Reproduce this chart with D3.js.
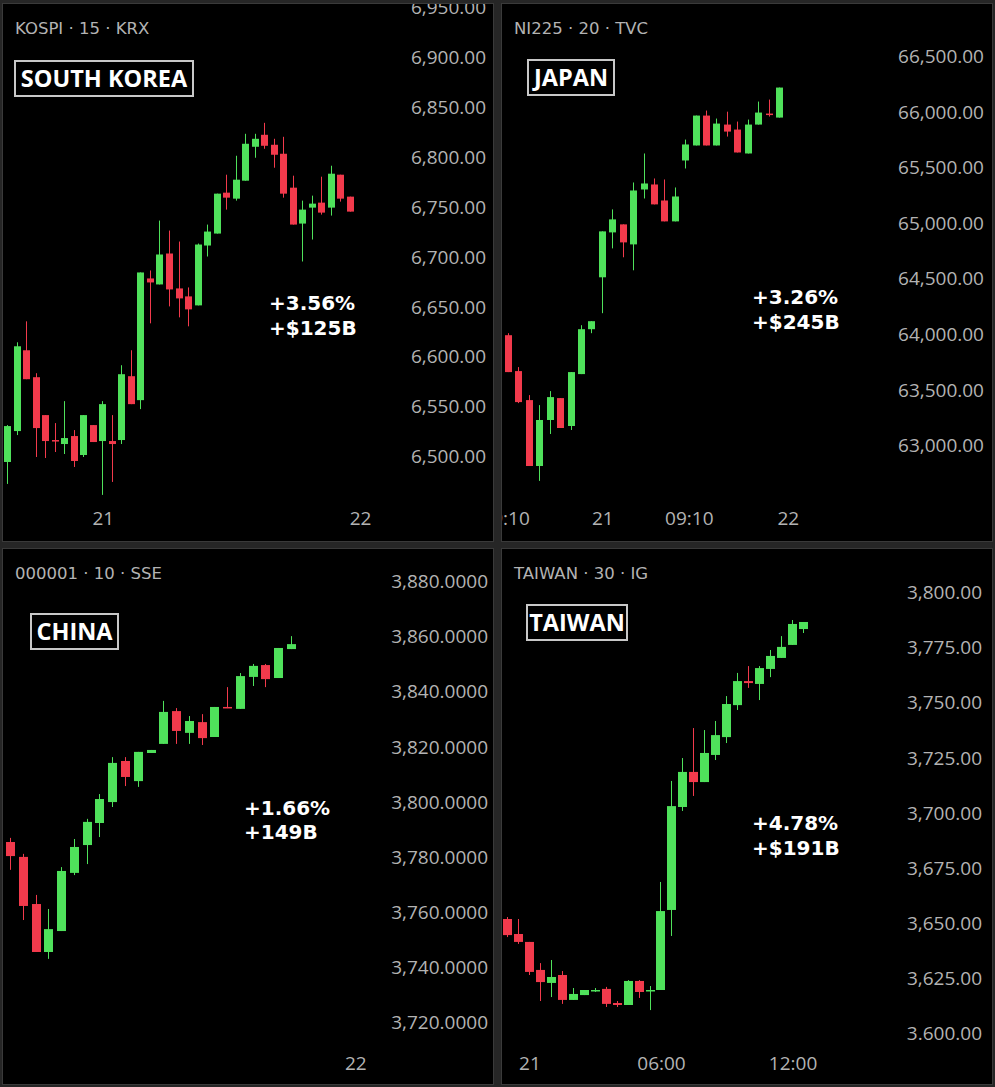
<!DOCTYPE html>
<html><head><meta charset="utf-8">
<script src="https://cdn.jsdelivr.net/npm/d3@7"></script>
<style>
html,body{margin:0;padding:0;background:#262626;}
svg{display:block;}
</style></head><body>
<svg id="chart" width="995" height="1087"></svg>
<script>
// ---------- DATA (open, high, low, close) ----------
const koreaCandles = [
 [6494,6531,6472,6530],[6525,6614,6521,6610],[6606,6635,6577,6577],[6579,6583,6499,6528],
 [6541,6541,6498,6515],[6516,6533,6504,6515],[6512,6555,6502,6518],[6520,6526,6489,6495],
 [6501,6541,6499,6541],[6531,6531,6514,6514],[6515,6555,6461,6552],[6515,6541,6474,6512],
 [6516,6591,6512,6582],[6580,6606,6552,6552],[6556,6684,6547,6684],[6678,6686,6633,6674],
 [6672,6736,6672,6702],[6703,6726,6650,6667],[6668,6715,6639,6658],[6660,6669,6630,6647],
 [6651,6713,6651,6712],[6711,6732,6700,6725],[6723,6763,6723,6763],[6764,6782,6747,6759],
 [6758,6801,6756,6777],[6776,6823,6776,6813],[6810,6823,6799,6818],[6822,6834,6808,6811],
 [6812,6818,6789,6802],[6803,6820,6759,6763],[6769,6781,6732,6732],[6733,6756,6695,6747],
 [6749,6761,6717,6753],[6754,6780,6742,6744],[6749,6791,6741,6783],[6782,6782,6755,6758],
 [6760,6760,6745,6745]
];
const japanCandles = [
 [63988,64006,63656,63656],[63665,63701,63377,63386],[63404,63449,62811,62811],[62811,63359,62677,63225],
 [63225,63485,63099,63431],[63422,63422,63153,63153],[63171,63656,63135,63656],[63638,64078,63638,64042],
 [64042,64114,64006,64114],[64509,64922,64186,64922],[64913,65120,64769,65030],[64985,64985,64689,64823],
 [64805,65362,64572,65290],[65299,65623,65218,65353],[65344,65398,65165,65165],[65200,65389,65012,65012],
 [65012,65317,65012,65236],[65560,65748,65488,65704],[65695,65964,65695,65964],[65964,66009,65695,65695],
 [65695,65937,65695,65892],[65883,65999,65775,65820],[65838,65910,65632,65632],[65623,65928,65623,65883],
 [65883,66090,65883,65991],[65982,66108,65955,65973],[65946,66216,65946,66216]
];
const chinaCandles = [
 [3785.3,3786.8,3775.2,3780.2],[3779.9,3781.0,3757.0,3762.1],[3762.8,3766.1,3745.4,3745.4],[3745.4,3761.0,3742.9,3753.7],
 [3753.0,3776.2,3753.0,3774.8],[3774.1,3786.4,3773.3,3783.5],[3784.2,3793.7,3777.3,3792.6],[3792.2,3802.7,3787.1,3800.9],
 [3799.8,3816.1,3798.0,3814.0],[3814.7,3816.1,3805.6,3808.9],[3807.4,3818.0,3805.3,3818.0],[3817.6,3818.7,3817.6,3818.7],
 [3820.9,3836.5,3820.9,3832.5],[3832.8,3833.9,3820.9,3825.6],[3824.9,3831.0,3820.9,3829.2],[3828.8,3831.7,3820.5,3823.0],
 [3823.4,3834.3,3823.4,3834.3],[3834.3,3841.5,3833.9,3833.9],[3833.6,3846.6,3833.6,3845.5],[3845.2,3849.9,3841.9,3849.2],
 [3849.5,3849.9,3841.5,3844.4],[3844.8,3855.7,3844.8,3855.7],[3855.3,3860.0,3855.3,3857.1]
];
const taiwanCandles = [
 [3651.7,3652.6,3643.5,3644.4],[3644.9,3651.7,3640.4,3641.3],[3641.3,3641.3,3626.3,3627.7],[3628.6,3631.7,3614.5,3623.1],
 [3622.7,3633.1,3616.3,3625.4],[3626.3,3628.1,3613.2,3615.0],[3615.0,3620.4,3615.0,3617.7],[3617.2,3619.5,3617.2,3619.5],
 [3619.0,3620.4,3618.6,3619.5],[3620.0,3620.9,3611.8,3613.2],[3613.6,3614.5,3611.8,3612.7],[3612.7,3624.0,3612.7,3623.6],
 [3623.6,3624.0,3615.9,3618.6],[3619.0,3621.3,3610.4,3619.5],[3619.5,3668.5,3619.5,3655.3],[3655.8,3714.3,3644.0,3702.9],
 [3702.5,3724.7,3700.7,3718.4],[3718.4,3738.3,3707.5,3713.8],[3713.8,3737.4,3713.8,3727.0],[3726.1,3741.5,3723.8,3735.1],
 [3734.2,3752.8,3731.5,3749.2],[3748.7,3763.3,3746.5,3759.6],[3759.6,3766.4,3756.5,3758.7],[3758.3,3766.4,3751.0,3765.5],
 [3765.1,3773.7,3761.4,3771.0],[3770.1,3780.0,3770.1,3775.1],[3776.0,3787.3,3776.0,3785.5],[3783.2,3786.4,3781.4,3786.4]
];

const koreaYTicks = [6500,6550,6600,6650,6700,6750,6800,6850,6900,6950];
const koreaYLabels = ["6,500.00","6,550.00","6,600.00","6,650.00","6,700.00","6,750.00","6,800.00","6,850.00","6,900.00","6,950.00"];
const japanYTicks = [63000,63500,64000,64500,65000,65500,66000,66500];
const japanYLabels = ["63,000.00","63,500.00","64,000.00","64,500.00","65,000.00","65,500.00","66,000.00","66,500.00"];
const chinaYTicks = [3720,3740,3760,3780,3800,3820,3840,3860,3880];
const chinaYLabels = ["3,720.0000","3,740.0000","3,760.0000","3,780.0000","3,800.0000","3,820.0000","3,840.0000","3,860.0000","3,880.0000"];
const taiwanYTicks = [3600,3625,3650,3675,3700,3725,3750,3775,3800];
const taiwanYLabels = ["3.600.00","3,625.00","3,650.00","3,675.00","3,700.00","3,725.00","3,750.00","3,775.00","3,800.00"];

const koreaXTicks = [10,37];          const koreaXLabels = ["21","22"];
const japanXTicks = [-0.33,9,17.3,26.8]; const japanXLabels = ["09:10","21","09:10","22"];
const chinaXTicks = [27];             const chinaXLabels = ["22"];
const taiwanXTicks = [2,14,26];       const taiwanXLabels = ["21","06:00","12:00"];

const koreaTitle = "KOSPI · 15 · KRX",  koreaName = "SOUTH KOREA", koreaNotes = ["+3.56%","+$125B"];
const japanTitle = "NI225 · 20 · TVC",  japanName = "JAPAN",       japanNotes = ["+3.26%","+$245B"];
const chinaTitle = "000001 · 10 · SSE", chinaName = "CHINA",       chinaNotes = ["+1.66%","+149B"];
const taiwanTitle = "TAIWAN · 30 · IG", taiwanName = "TAIWAN",     taiwanNotes = ["+4.78%","+$191B"];

// ---------- LAYOUT ----------
const GREEN = "#4fe15b", RED = "#f23a4c", GREY = "#b3b3b3";
const TICK_FONT = "'Open Sans', sans-serif";
const panels = [
 {id:"kr", data:koreaCandles, yTicks:koreaYTicks, yLabels:koreaYLabels, xTicks:koreaXTicks, xLabels:koreaXLabels,
  title:koreaTitle, name:koreaName, notes:koreaNotes,
  box:{x:3,y:4,w:490,h:537}, xRange:[7.5,350.5], bw:7, yDomain:[6500,6900], yRange:[456,57],
  yLabelX:486, xLabelY:518, nameBox:{x:14,y:60,w:180,h:37}, noteX:269, noteY:[303,328]},
 {id:"jp", data:japanCandles, yTicks:japanYTicks, yLabels:japanYLabels, xTicks:japanXTicks, xLabels:japanXLabels,
  title:japanTitle, name:japanName, notes:japanNotes,
  box:{x:502,y:4,w:490,h:537}, xRange:[508.5,779.5], bw:7, yDomain:[63000,66500], yRange:[445,56],
  yLabelX:984, xLabelY:518, nameBox:{x:527,y:59,w:88,h:37}, noteX:752, noteY:[297,322]},
 {id:"cn", data:chinaCandles, yTicks:chinaYTicks, yLabels:chinaYLabels, xTicks:chinaXTicks, xLabels:chinaXLabels,
  title:chinaTitle, name:chinaName, notes:chinaNotes,
  box:{x:3,y:549,w:490,h:535}, xRange:[10.5,291.5], bw:9, yDomain:[3720,3880], yRange:[1022,581],
  yLabelX:488, xLabelY:1063, nameBox:{x:30,y:613,w:89,h:37}, noteX:244, noteY:[808,832]},
 {id:"tw", data:taiwanCandles, yTicks:taiwanYTicks, yLabels:taiwanYLabels, xTicks:taiwanXTicks, xLabels:taiwanXLabels,
  title:taiwanTitle, name:taiwanName, notes:taiwanNotes,
  box:{x:502,y:549,w:490,h:535}, xRange:[507.5,803.5], bw:9, yDomain:[3600,3800], yRange:[1033,592],
  yLabelX:982, xLabelY:1063, nameBox:{x:526,y:604,w:102,h:37}, noteX:752, noteY:[823,848]}
];

const svg = d3.select("#chart");
svg.append("rect").attr("width",995).attr("height",1087).attr("fill","#262626");

panels.forEach(p => {
  const b = p.box;
  svg.append("clipPath").attr("id","clip-"+p.id).append("rect")
     .attr("x",b.x).attr("y",b.y).attr("width",b.w).attr("height",b.h);
  svg.append("rect").attr("x",b.x-0.5).attr("y",b.y-0.5).attr("width",b.w+1).attr("height",b.h+1)
     .attr("fill","#000").attr("stroke","#3a3a3a").attr("stroke-width",1);
  const g = svg.append("g").attr("clip-path",`url(#clip-${p.id})`);

  const x = d3.scaleLinear().domain([0,p.data.length-1]).range(p.xRange);
  const y = d3.scaleLinear().domain(p.yDomain).range(p.yRange);

  // y axis labels
  const ya = d3.axisLeft(y).tickValues(p.yTicks)
     .tickFormat(d => p.yLabels[p.yTicks.indexOf(d)]).tickSize(0).tickPadding(0);
  const yg = g.append("g").attr("transform",`translate(${p.yLabelX},0)`).call(ya);
  yg.select(".domain").remove();
  yg.attr("font-family",TICK_FONT).attr("font-size",19).attr("color",GREY);
  yg.selectAll("text").attr("dy","0.35em");

  // x axis labels
  const xa = d3.axisBottom(x).tickValues(p.xTicks)
     .tickFormat(d => p.xLabels[p.xTicks.indexOf(d)]).tickSize(0).tickPadding(0);
  const xg = g.append("g").attr("transform",`translate(0,${p.xLabelY})`).call(xa);
  xg.select(".domain").remove();
  xg.attr("font-family",TICK_FONT).attr("font-size",19).attr("color",GREY);
  xg.selectAll("text").attr("dy","0.35em");

  // candles
  const col = d => d[3] >= d[0] ? GREEN : RED;
  const bodyX = (d,i) => Math.round(x(i) - p.bw/2);
  const cg = g.append("g").selectAll("g").data(p.data).join("g");
  cg.append("line")
    .attr("x1",(d,i)=>bodyX(d,i)+Math.floor(p.bw/2)+0.5).attr("x2",(d,i)=>bodyX(d,i)+Math.floor(p.bw/2)+0.5)
    .attr("y1",d=>y(d[1])).attr("y2",d=>y(d[2]))
    .attr("stroke",col).attr("stroke-width",1);
  cg.append("rect")
    .attr("x",bodyX).attr("width",p.bw)
    .attr("y",d=>Math.min(y(d[0]),y(d[3])))
    .attr("height",d=>Math.max(1.5,Math.abs(y(d[0])-y(d[3]))))
    .attr("fill",col);

  // header title
  g.append("text").attr("x",b.x+12).attr("y",b.y+24).attr("dy","0.35em")
   .attr("font-family","'DejaVu Sans', sans-serif").attr("font-size",16.5).attr("fill",GREY).text(p.title);

  // name box
  const nb = p.nameBox;
  g.append("rect").attr("x",nb.x+1).attr("y",nb.y+1).attr("width",nb.w-2).attr("height",nb.h-2)
   .attr("fill","none").attr("stroke","#c8c8c8").attr("stroke-width",2);
  g.append("text").attr("x",nb.x+nb.w/2).attr("y",nb.y+nb.h/2).attr("dy","0.36em").attr("text-anchor","middle")
   .attr("font-family","'Open Sans', sans-serif").attr("font-weight","bold").attr("font-size",23.5)
   .attr("fill","#fff").text(p.name);

  // notes
  p.notes.forEach((t,i) => {
    g.append("text").attr("x",p.noteX).attr("y",p.noteY[i]).attr("dy","0.36em")
     .attr("font-family","'DejaVu Sans', sans-serif").attr("font-weight","bold").attr("font-size",20)
     .attr("fill","#fff").text(t);
  });
});
</script>
</body></html>
